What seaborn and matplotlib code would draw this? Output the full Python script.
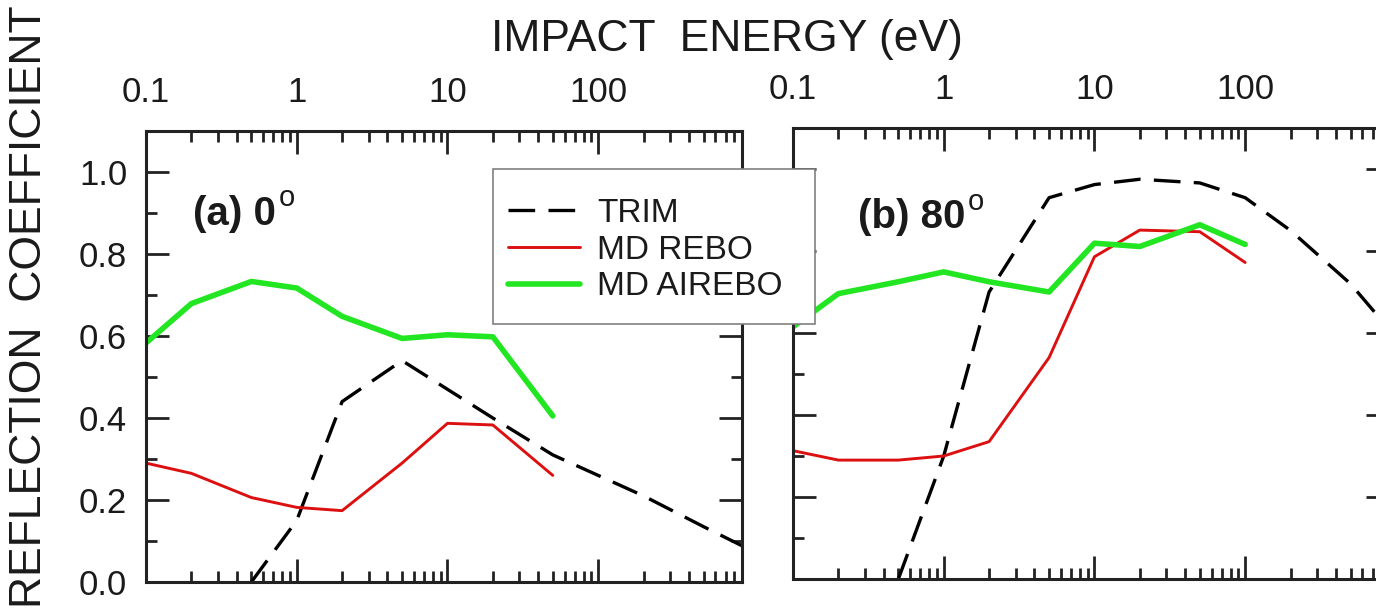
import matplotlib
matplotlib.use("Agg")
import matplotlib.pyplot as plt
from matplotlib.lines import Line2D
from matplotlib.patches import Rectangle
from matplotlib import ticker
import seaborn as sns
import pandas as pd

# ---------------- data ----------------
trim_energy = [0.5, 1, 2, 5, 10, 20, 50, 100, 200, 500, 1000]
trim_a = [0.0, 0.15, 0.44, 0.54, 0.47, 0.40, 0.31, 0.26, 0.21, 0.135, 0.08]
trim_b = [0.0, 0.30, 0.70, 0.93, 0.962, 0.975, 0.966, 0.93, 0.85, 0.72, 0.59]

md_energy_a = [0.1, 0.2, 0.5, 1, 2, 5, 10, 20, 50]
rebo_a = [0.29, 0.265, 0.206, 0.182, 0.174, 0.29, 0.387, 0.383, 0.26]
airebo_a = [0.583, 0.679, 0.733, 0.717, 0.648, 0.594, 0.603, 0.598, 0.405]

md_energy_b = [0.1, 0.2, 0.5, 1, 2, 5, 10, 20, 50, 100]
rebo_b = [0.313, 0.29, 0.29, 0.30, 0.335, 0.54, 0.786, 0.851, 0.847, 0.772]
airebo_b = [0.615, 0.696, 0.725, 0.749, 0.725, 0.70, 0.819, 0.811, 0.864, 0.816]

models = ["TRIM", "MD REBO", "MD AIREBO"]
x_tick_vals = [0.1, 1, 10, 100, 1000]
y_tick_vals = [0.0, 0.2, 0.4, 0.6, 0.8, 1.0]
panel_titles = ["(a) 0", "(b) 80"]

# ---------------- style ----------------
sns.set_style("ticks")
plt.rcParams["font.family"] = ["Liberation Sans", "DejaVu Sans"]
TXT = "#1a1a1a"
palette = {"TRIM": "#000000", "MD REBO": "#dc1010", "MD AIREBO": "#22e622"}
dashes = {"TRIM": (8, 4), "MD REBO": "", "MD AIREBO": ""}
sizes = {"TRIM": 2.4, "MD REBO": 2.1, "MD AIREBO": 4.0}


def frame(model, energies, values, panel):
    return pd.DataFrame({"energy": energies, "coef": values,
                         "model": model, "panel": panel})


df = pd.concat([
    frame("TRIM", trim_energy, trim_a, "a"),
    frame("MD REBO", md_energy_a, rebo_a, "a"),
    frame("MD AIREBO", md_energy_a, airebo_a, "a"),
    frame("TRIM", trim_energy, trim_b, "b"),
    frame("MD REBO", md_energy_b, rebo_b, "b"),
    frame("MD AIREBO", md_energy_b, airebo_b, "b"),
], ignore_index=True)

W, H = 1376, 615
fig = plt.figure(figsize=(W / 100, H / 100), dpi=100)
axa = fig.add_axes([146 / W, 1 - 582 / H, 596 / W, 451 / H])
axb = fig.add_axes([793 / W, 1 - 579 / H, 596 / W, 451 / H])

for ax, panel, title, (tx, ty) in zip(
        [axa, axb], ["a", "b"], panel_titles, [(0.079, 0.792), (0.109, 0.778)]):
    sub = df[df["panel"] == panel]
    sns.lineplot(data=sub, x="energy", y="coef", hue="model", style="model",
                 size="model", hue_order=models, style_order=models,
                 size_order=models, palette=palette, dashes=dashes,
                 sizes=sizes, estimator=None, sort=False, legend=False, ax=ax)
    ax.set_xscale("log")
    ax.set_xlim(0.1, 900)
    ax.set_ylim(0.0, 1.1)
    ax.set_xlabel("")
    ax.set_ylabel("")
    ax.xaxis.set_major_locator(ticker.FixedLocator(x_tick_vals))
    ax.xaxis.set_major_formatter(ticker.FuncFormatter(lambda v, p: f"{v:g}"))
    ax.xaxis.set_minor_locator(ticker.LogLocator(base=10, subs=range(2, 10), numticks=20))
    ax.xaxis.set_minor_formatter(ticker.NullFormatter())
    ax.yaxis.set_major_locator(ticker.FixedLocator(y_tick_vals))
    ax.yaxis.set_major_formatter(ticker.FormatStrFormatter("%.1f"))
    ax.yaxis.set_minor_locator(ticker.MultipleLocator(0.1))
    ax.tick_params(which="both", direction="in", top=True, bottom=True,
                   left=True, right=True, labeltop=True, labelbottom=False,
                   labelleft=(panel == "a"), labelright=False,
                   colors="#222222", labelcolor=TXT, labelsize=25, width=2)
    ax.tick_params(which="major", length=16.5)
    ax.tick_params(which="minor", length=8)
    ax.tick_params(axis="x", which="major", pad=16)
    ax.tick_params(axis="y", which="major", pad=13.5)
    for s in ax.spines.values():
        s.set_linewidth(2.2)
        s.set_color("#222222")
    t = ax.text(tx, ty, title, transform=ax.transAxes, fontsize=29,
                fontweight="bold", color=TXT, va="baseline", ha="left")
    ax.annotate("o", xy=(1.0, 1.0), xycoords=t, xytext=(2, 7.5),
                textcoords="offset points", fontsize=21, fontweight="normal",
                color=TXT, va="top", ha="left")

# legend box (drawn over both panels, like the reference)
fig.patches.append(Rectangle((493 / W, 1 - 324 / H), (815 - 493) / W,
                             (324 - 169) / H, transform=fig.transFigure,
                             facecolor="white", edgecolor="#808080",
                             linewidth=1.2, zorder=4))
handles = [Line2D([], [], color=palette[m], lw=sizes[m]) for m in models]
handles[0].set_dashes(dashes["TRIM"])
leg = fig.legend(handles, models, loc="upper left",
                 bbox_to_anchor=(508 / W, 1 - 198 / H), borderaxespad=0,
                 frameon=False, fontsize=24, handlelength=2.16,
                 handletextpad=0.51, labelspacing=0.17, borderpad=0)
leg.set_zorder(6)
for txt in leg.get_texts():
    txt.set_color(TXT)

fig.text(727 / W, 1 - 40 / H, "IMPACT  ENERGY (eV)", fontsize=32, color=TXT,
         ha="center", va="center")
fig.text(30 / W, 1 - 307 / H, "REFLECTION  COEFFICIENT", fontsize=32,
         color=TXT, rotation=90, ha="center", va="center")

fig.savefig("out.png", dpi=100)
